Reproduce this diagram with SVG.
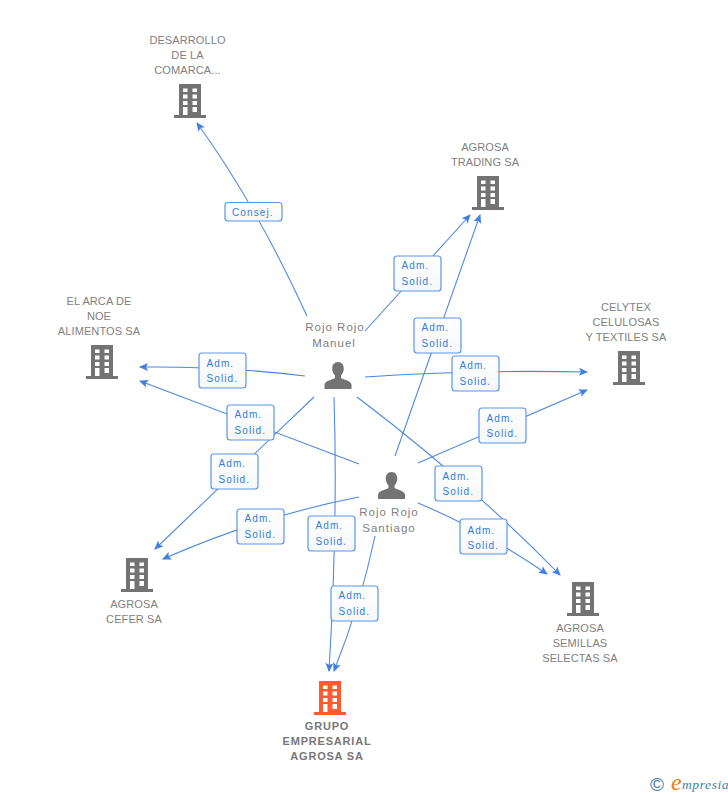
<svg xmlns="http://www.w3.org/2000/svg" width="728" height="795" viewBox="0 0 728 795">
<style>
.bg{fill:#fff}
.c{fill:none;stroke:#4a86e0;stroke-width:1.05;marker-end:url(#ah)}
.n{font:11px "Liberation Sans",Arial,sans-serif;letter-spacing:.1px;fill:#808080;text-anchor:middle}
.p{font:11.5px "Liberation Sans",Arial,sans-serif;letter-spacing:1px;fill:#808080;text-anchor:middle}
.t{font:bold 11px "Liberation Sans",Arial,sans-serif;letter-spacing:.8px;fill:#777;text-anchor:middle}
.lb{fill:url(#lg);stroke:#5a96e8;stroke-width:1.2}
.lt{font:10px "Liberation Sans",Arial,sans-serif;letter-spacing:1.1px;fill:#2f7be0}
.g{fill:#737373}
.o{fill:#ff5a30}
.w{fill:#fff}
</style>
<defs>
<linearGradient id="lg" x1="0" y1="0" x2="0" y2="1"><stop offset="0" stop-color="#fff"/><stop offset="1" stop-color="#f6f7f9"/></linearGradient>
<marker id="ah" markerUnits="userSpaceOnUse" markerWidth="10" markerHeight="10" viewBox="0 0 10 10" refX="9" refY="5" orient="auto"><path d="M1,1L10,5L1,9L3,5Z" fill="#3f7fe0"/></marker>
<g id="b">
<rect x="5" y="0" width="22" height="31"/><rect x="0" y="31" width="32" height="3"/>
<g class="w"><rect x="9" y="4.5" width="4.5" height="3.5"/><rect x="18.500" y="4.500" width="4.500" height="3.500"/><rect x="9" y="10.500" width="4.500" height="4"/><rect x="18.500" y="10.500" width="4.500" height="4"/><rect x="9" y="17" width="4.500" height="4"/><rect x="18.500" y="17" width="4.500" height="4"/><rect x="9" y="23" width="4.500" height="8"/><rect x="18.500" y="23" width="4.500" height="5"/></g>
</g>
<path id="u" d="M13.500,0C9.500,0 7.700,3 7.700,6.500C7.700,9.500 9,12 10.500,13.500L10.500,16C7,18 1,18.500 0,22.500L0,27L27,27L27,22.500C26,18.500 20,18 16.500,16L16.500,13.500C18,12 19.300,9.500 19.300,6.500C19.300,3 17.500,0 13.500,0Z"/>
</defs>
<rect class="bg" width="728" height="795"/>
<g id="connectors">
<path class="c" d="M307,316Q256,204.500 197,123"/>
<path class="c" d="M365,331L470,215"/>
<path class="c" d="M395,456L480,215"/>
<path class="c" d="M365,377Q474,369.500 587,372"/>
<path class="c" d="M418,463L587,390"/>
<path class="c" d="M305,376Q223,366 140,367"/>
<path class="c" d="M359,464L140,381"/>
<path class="c" d="M314,397L155,549"/>
<path class="c" d="M359,497Q261,516 163,559"/>
<path class="c" d="M334,397Q338,520 329,671"/>
<path class="c" d="M375,536Q361,603 334,671"/>
<path class="c" d="M357,397Q467.500,480.500 560,575"/>
<path class="c" d="M418,503Q483,530 547,574"/>
</g>
<g id="labels">
<g id="l-consej"><rect class="lb" x="225" y="202.500" width="57" height="18.500" rx="3"/><text class="lt" x="232" y="215.500">Consej.</text></g>
<g id="l1"><rect class="lb" x="394" y="256" width="47" height="35" rx="3"/><text class="lt" x="401.500" y="269">Adm.</text><text class="lt" x="401.500" y="284.500">Solid.</text></g>
<g id="l2"><rect class="lb" x="414" y="318" width="47" height="35" rx="3"/><text class="lt" x="421.500" y="331">Adm.</text><text class="lt" x="421.500" y="346.500">Solid.</text></g>
<g id="l3"><rect class="lb" x="452" y="356" width="47" height="35" rx="3"/><text class="lt" x="459.500" y="369">Adm.</text><text class="lt" x="459.500" y="384.500">Solid.</text></g>
<g id="l4"><rect class="lb" x="479" y="408" width="47" height="35" rx="3"/><text class="lt" x="486.500" y="422">Adm.</text><text class="lt" x="486.500" y="437">Solid.</text></g>
<g id="l5"><rect class="lb" x="199" y="353" width="47" height="35" rx="3"/><text class="lt" x="206.500" y="367">Adm.</text><text class="lt" x="206.500" y="382">Solid.</text></g>
<g id="l6"><rect class="lb" x="227" y="405" width="47" height="35" rx="3"/><text class="lt" x="234.500" y="418">Adm.</text><text class="lt" x="234.500" y="433.500">Solid.</text></g>
<g id="l7"><rect class="lb" x="211" y="454" width="47" height="35" rx="3"/><text class="lt" x="218.500" y="467">Adm.</text><text class="lt" x="218.500" y="482.500">Solid.</text></g>
<g id="l8"><rect class="lb" x="237" y="509" width="47" height="35" rx="3"/><text class="lt" x="244.500" y="522">Adm.</text><text class="lt" x="244.500" y="537.500">Solid.</text></g>
<g id="l9"><rect class="lb" x="308" y="516" width="47" height="35" rx="3"/><text class="lt" x="315.500" y="529">Adm.</text><text class="lt" x="315.500" y="544.500">Solid.</text></g>
<g id="l10"><rect class="lb" x="331" y="586" width="47" height="35" rx="3"/><text class="lt" x="338.500" y="599">Adm.</text><text class="lt" x="338.500" y="614.500">Solid.</text></g>
<g id="l11"><rect class="lb" x="435" y="466" width="47" height="35" rx="3"/><text class="lt" x="442.500" y="479.500">Adm.</text><text class="lt" x="442.500" y="494.500">Solid.</text></g>
<g id="l12"><rect class="lb" x="460" y="519" width="47" height="35" rx="3"/><text class="lt" x="467.500" y="533.500">Adm.</text><text class="lt" x="467.500" y="548.500">Solid.</text></g>
</g>
<g id="n-desarrollo"><use href="#b" class="g" x="174" y="84"/><text class="n" x="187.500" y="44">DESARROLLO</text><text class="n" x="187.500" y="59">DE LA</text><text class="n" x="187.500" y="74">COMARCA...</text></g>
<g id="n-trading"><use href="#b" class="g" x="472" y="176"/><text class="n" x="485" y="151">AGROSA</text><text class="n" x="485" y="166">TRADING SA</text></g>
<g id="n-celytex"><use href="#b" class="g" x="613" y="351"/><text class="n" x="626" y="311">CELYTEX</text><text class="n" x="626" y="326">CELULOSAS</text><text class="n" x="626" y="341">Y TEXTILES SA</text></g>
<g id="n-arca"><use href="#b" class="g" x="86" y="345"/><text class="n" x="99" y="305">EL ARCA DE</text><text class="n" x="99" y="320">NOE</text><text class="n" x="99" y="335">ALIMENTOS SA</text></g>
<g id="n-cefer"><use href="#b" class="g" x="121" y="558"/><text class="n" x="134" y="608">AGROSA</text><text class="n" x="134" y="623">CEFER SA</text></g>
<g id="n-semillas"><use href="#b" class="g" x="567" y="582"/><text class="n" x="580" y="632">AGROSA</text><text class="n" x="580" y="647">SEMILLAS</text><text class="n" x="580" y="662">SELECTAS SA</text></g>
<g id="n-grupo"><use href="#b" class="o" x="314" y="681"/><text class="t" x="327" y="730">GRUPO</text><text class="t" x="327" y="745">EMPRESARIAL</text><text class="t" x="327" y="760">AGROSA SA</text></g>
<g id="n-manuel"><use href="#u" class="g" x="324.500" y="362"/><text class="p" x="335" y="331">Rojo Rojo</text><text class="p" x="334" y="347">Manuel</text></g>
<g id="n-santiago"><use href="#u" class="g" x="378" y="472"/><text class="p" x="389" y="516">Rojo Rojo</text><text class="p" x="389" y="532">Santiago</text></g>
<g id="logo"><text x="650" y="791" style="font:19px 'Liberation Sans',sans-serif;fill:#3f7f9f">©</text><text x="671" y="790" style="font:italic 24px 'Liberation Serif',serif;fill:#f07a10">e</text><text x="682" y="789" style="font:italic 13.500px 'Liberation Serif',serif;letter-spacing:.6px;fill:#3f7f9f">mpresia</text></g>
</svg>
